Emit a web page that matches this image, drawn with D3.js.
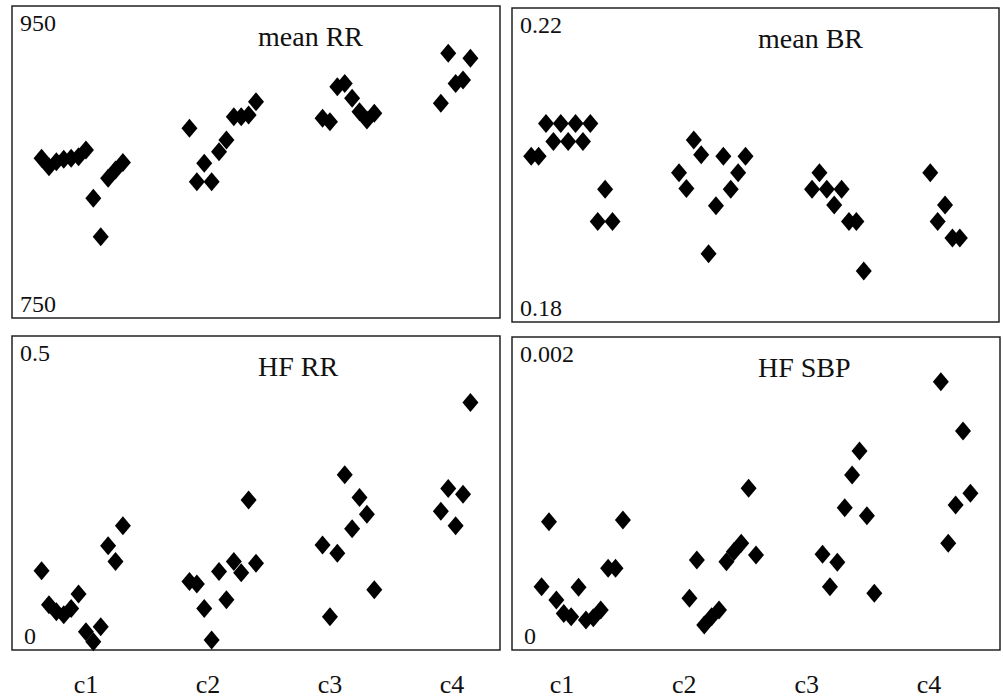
<!DOCTYPE html>
<html>
<head>
<meta charset="utf-8">
<script src="https://cdn.jsdelivr.net/npm/d3@7"></script>
<style>
  body { margin: 0; background: #fff; }
  text { font-family: "Liberation Serif", "Times New Roman", serif; fill: #111; }
</style>
</head>
<body>
<div id="chart"></div>
<script>
// categories and subject slots along x (gap between groups)
var categories = ["c1", "c2", "c3", "c4"];
var slotsC1 = [0, 1, 2, 3, 4, 5, 6, 7, 8, 9, 10, 11];
var slotsC2 = [20, 21, 22, 23, 24, 25, 26, 27, 28, 29];
var slotsC3 = [38, 39, 40, 41, 42, 43, 44, 45];
var slotsC4 = [54, 55, 56, 57, 58];

// mean RR
var meanRR = [
  [852.4, 847, 850.2, 851.7, 852.4, 853.4, 857.7, 826.7, 802.1, 839.6, 844.9, 849.6],
  [871.6, 837.4, 849.2, 837.4, 856.6, 864.1, 879, 879, 880.1, 888.7],
  [878, 875.8, 898.3, 900.4, 890.8, 882.2, 876.9, 881.2],
  [887.6, 919.7, 900.4, 902.6, 916.5]
];
// mean BR
var meanBR = [
  [0.2011, 0.2011, 0.2053, 0.2030, 0.2053, 0.2030, 0.2053, 0.2030, 0.2053, 0.1928, 0.1969, 0.1928],
  [0.1990, 0.1970, 0.2032, 0.2013, 0.1887, 0.1948, 0.2011, 0.1969, 0.1990, 0.2011],
  [0.1969, 0.1990, 0.1969, 0.1949, 0.1969, 0.1928, 0.1928, 0.1865],
  [0.1990, 0.1928, 0.1949, 0.1907, 0.1907]
];
// HF RR
var hfRR = [
  [0.126, 0.072, 0.061, 0.056, 0.066, 0.089, 0.029, 0.013, 0.037, 0.166, 0.141, 0.198],
  [0.109, 0.105, 0.066, 0.016, 0.125, 0.080, 0.141, 0.123, 0.239, 0.138],
  [0.167, 0.053, 0.154, 0.279, 0.193, 0.243, 0.216, 0.096],
  [0.221, 0.257, 0.198, 0.248, 0.394]
];
// HF SBP
var hfSBP = [
  [0.000404, 0.000820, 0.000319, 0.000234, 0.000213, 0.000401, 0.000192, 0.000206, 0.000256, 0.000522, 0.000522, 0.000831],
  [0.000330, 0.000575, 0.000160, 0.000213, 0.000256, 0.000564, 0.000628, 0.000682, 0.001033, 0.000607],
  [0.000612, 0.000404, 0.000560, 0.000909, 0.001118, 0.001272, 0.000858, 0.000362],
  [0.001714, 0.000682, 0.000927, 0.001399, 0.001001]
];

var titles = ["mean RR", "mean BR", "HF RR", "HF SBP"];
var yDomains = [[750, 950], [0.18, 0.22], [0, 0.5], [0, 0.002]];
var yTickLabels = [["750", "950"], ["0.18", "0.22"], ["0", "0.5"], ["0", "0.002"]];

var svgWidth = 1003;
var svgHeight = 699;

var svg = d3.select("#chart")
  .append("svg")
  .attr("width", svgWidth)
  .attr("height", svgHeight);

var allSlots = [slotsC1, slotsC2, slotsC3, slotsC4];
var series = [meanRR, meanBR, hfRR, hfSBP];

// panel boxes
var panels = [
  { x0: 12, x1: 500, y0: 6, y1: 318, xDom: [-4, 62] },
  { x0: 512, x1: 999, y0: 8, y1: 322, xDom: [-2.6, 63.3] },
  { x0: 12, x1: 500, y0: 336, y1: 650, xDom: [-4, 62] },
  { x0: 512, x1: 1000, y0: 337, y1: 650, xDom: [-4, 62] }
];

var diamond = "M0,-9.5L8,0L0,9.5L-8,0Z";

panels.forEach(function (p, i) {
  var x = d3.scaleLinear().domain(p.xDom).range([p.x0, p.x1]);
  var y = d3.scaleLinear().domain(yDomains[i]).range([p.y1, p.y0]);

  var pts = [];
  series[i].forEach(function (grp, g) {
    grp.forEach(function (v, k) {
      pts.push({ slot: allSlots[g][k], value: v });
    });
  });

  var g = svg.append("g");

  g.append("rect")
    .attr("x", p.x0)
    .attr("y", p.y0)
    .attr("width", p.x1 - p.x0)
    .attr("height", p.y1 - p.y0)
    .attr("fill", "#fff")
    .attr("stroke", "#222")
    .attr("stroke-width", 1.5);

  // top / bottom value labels inside the box
  g.append("text")
    .attr("x", p.x0 + 8)
    .attr("y", y(yDomains[i][1]) + 25)
    .attr("font-size", 24)
    .text(yTickLabels[i][1]);

  g.append("text")
    .attr("x", p.x0 + (yTickLabels[i][0] === "0" ? 12 : 8))
    .attr("y", y(yDomains[i][0]) - 6)
    .attr("font-size", 24)
    .text(yTickLabels[i][0]);

  g.append("text")
    .attr("x", p.x0 + 246)
    .attr("y", p.y0 + 40)
    .attr("font-size", 28)
    .text(titles[i]);

  g.selectAll("path.pt")
    .data(pts)
    .enter()
    .append("path")
    .attr("class", "pt")
    .attr("d", diamond)
    .attr("transform", d => `translate(${x(d.slot)},${y(d.value)})`)
    .attr("fill", "#000");
});

// category labels under the bottom panels
[[86, 452], [562, 929]].forEach(function (r) {
  var cx = d3.scalePoint().domain(categories).range(r);
  svg.append("g")
    .selectAll("text")
    .data(categories)
    .enter()
    .append("text")
    .attr("x", d => cx(d))
    .attr("y", 693)
    .attr("text-anchor", "middle")
    .attr("font-size", 26)
    .text(d => d);
});
</script>
</body>
</html>
